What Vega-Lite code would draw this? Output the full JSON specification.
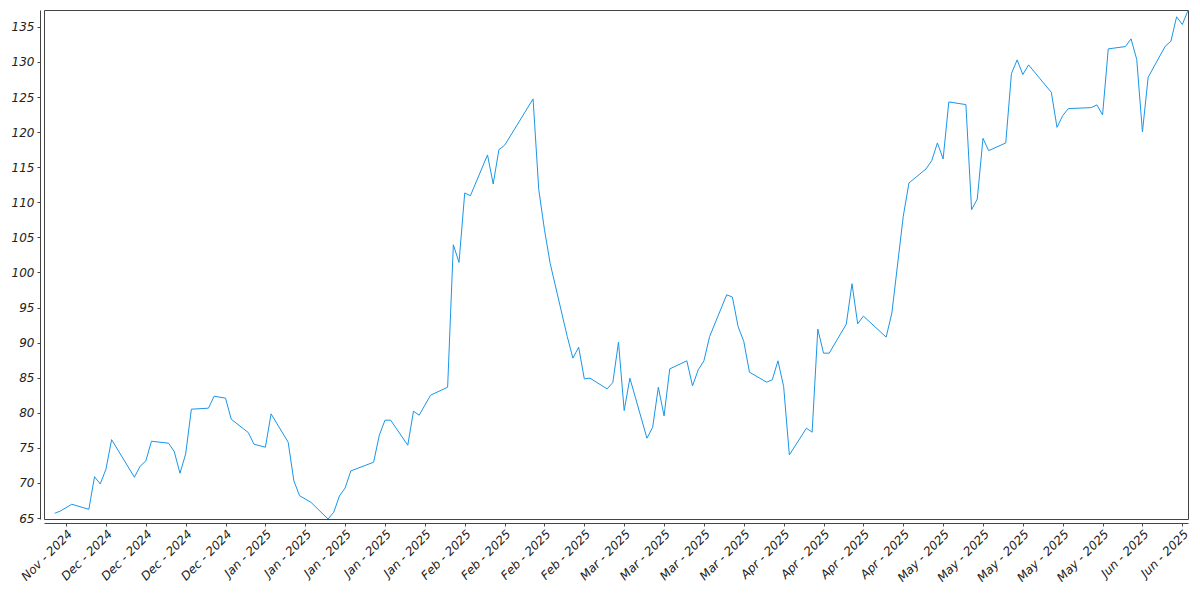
{
  "$schema": "https://vega.github.io/schema/vega-lite/v6.json",
  "width": 1144,
  "height": 509,
  "autosize": {"type": "none"},
  "padding": {"left": 44, "top": 10, "right": 12, "bottom": 81},
  "background": "white",
  "config": {
    "view": {"stroke": "#444444", "strokeWidth": 1},
    "axis": {
      "labelFont": "DejaVu Sans",
      "labelFontStyle": "italic",
      "labelFontSize": 12,
      "labelColor": "#222222",
      "tickColor": "#444444",
      "domainColor": "#444444",
      "tickSize": 3,
      "grid": false,
      "title": null,
      "labelOverlap": false,
      "labelBound": false,
      "labelFlush": false
    }
  },
  "data": {
    "values": [
      {"date": "2024-11-26", "value": 65.68},
      {"date": "2024-11-27", "value": 66.01},
      {"date": "2024-11-29", "value": 66.97},
      {"date": "2024-12-02", "value": 66.25},
      {"date": "2024-12-03", "value": 70.90},
      {"date": "2024-12-04", "value": 69.86},
      {"date": "2024-12-05", "value": 71.96},
      {"date": "2024-12-06", "value": 76.18},
      {"date": "2024-12-10", "value": 70.82},
      {"date": "2024-12-11", "value": 72.39},
      {"date": "2024-12-12", "value": 73.14},
      {"date": "2024-12-13", "value": 75.95},
      {"date": "2024-12-16", "value": 75.67},
      {"date": "2024-12-17", "value": 74.47},
      {"date": "2024-12-18", "value": 71.39},
      {"date": "2024-12-19", "value": 74.14},
      {"date": "2024-12-20", "value": 80.52},
      {"date": "2024-12-23", "value": 80.66},
      {"date": "2024-12-24", "value": 82.37},
      {"date": "2024-12-26", "value": 82.09},
      {"date": "2024-12-27", "value": 79.09},
      {"date": "2024-12-30", "value": 77.18},
      {"date": "2024-12-31", "value": 75.52},
      {"date": "2025-01-02", "value": 75.10},
      {"date": "2025-01-03", "value": 79.85},
      {"date": "2025-01-06", "value": 75.81},
      {"date": "2025-01-07", "value": 70.30},
      {"date": "2025-01-08", "value": 68.19},
      {"date": "2025-01-10", "value": 67.25},
      {"date": "2025-01-13", "value": 64.87},
      {"date": "2025-01-14", "value": 65.83},
      {"date": "2025-01-15", "value": 68.15},
      {"date": "2025-01-16", "value": 69.29},
      {"date": "2025-01-17", "value": 71.72},
      {"date": "2025-01-21", "value": 72.96},
      {"date": "2025-01-22", "value": 76.81},
      {"date": "2025-01-23", "value": 78.95},
      {"date": "2025-01-24", "value": 78.95},
      {"date": "2025-01-27", "value": 75.38},
      {"date": "2025-01-28", "value": 80.23},
      {"date": "2025-01-29", "value": 79.66},
      {"date": "2025-01-31", "value": 82.51},
      {"date": "2025-02-03", "value": 83.65},
      {"date": "2025-02-04", "value": 103.95},
      {"date": "2025-02-05", "value": 101.43},
      {"date": "2025-02-06", "value": 111.33},
      {"date": "2025-02-07", "value": 110.94},
      {"date": "2025-02-10", "value": 116.75},
      {"date": "2025-02-11", "value": 112.61},
      {"date": "2025-02-12", "value": 117.50},
      {"date": "2025-02-13", "value": 118.11},
      {"date": "2025-02-18", "value": 124.73},
      {"date": "2025-02-19", "value": 111.80},
      {"date": "2025-02-20", "value": 106.10},
      {"date": "2025-02-21", "value": 101.30},
      {"date": "2025-02-24", "value": 90.87},
      {"date": "2025-02-25", "value": 87.79},
      {"date": "2025-02-26", "value": 89.36},
      {"date": "2025-02-27", "value": 84.84},
      {"date": "2025-02-28", "value": 84.94},
      {"date": "2025-03-03", "value": 83.41},
      {"date": "2025-03-04", "value": 84.31},
      {"date": "2025-03-05", "value": 90.07},
      {"date": "2025-03-06", "value": 80.32},
      {"date": "2025-03-07", "value": 84.94},
      {"date": "2025-03-10", "value": 76.38},
      {"date": "2025-03-11", "value": 77.95},
      {"date": "2025-03-12", "value": 83.65},
      {"date": "2025-03-13", "value": 79.56},
      {"date": "2025-03-14", "value": 86.26},
      {"date": "2025-03-17", "value": 87.41},
      {"date": "2025-03-18", "value": 83.84},
      {"date": "2025-03-19", "value": 86.12},
      {"date": "2025-03-20", "value": 87.41},
      {"date": "2025-03-21", "value": 90.87},
      {"date": "2025-03-24", "value": 96.82},
      {"date": "2025-03-25", "value": 96.49},
      {"date": "2025-03-26", "value": 92.30},
      {"date": "2025-03-27", "value": 90.16},
      {"date": "2025-03-28", "value": 85.79},
      {"date": "2025-03-31", "value": 84.37},
      {"date": "2025-04-01", "value": 84.70},
      {"date": "2025-04-02", "value": 87.41},
      {"date": "2025-04-03", "value": 83.74},
      {"date": "2025-04-04", "value": 74.00},
      {"date": "2025-04-07", "value": 77.81},
      {"date": "2025-04-08", "value": 77.24},
      {"date": "2025-04-09", "value": 91.93},
      {"date": "2025-04-10", "value": 88.50},
      {"date": "2025-04-11", "value": 88.50},
      {"date": "2025-04-14", "value": 92.64},
      {"date": "2025-04-15", "value": 98.39},
      {"date": "2025-04-16", "value": 92.68},
      {"date": "2025-04-17", "value": 93.78},
      {"date": "2025-04-21", "value": 90.79},
      {"date": "2025-04-22", "value": 94.21},
      {"date": "2025-04-24", "value": 107.99},
      {"date": "2025-04-25", "value": 112.75},
      {"date": "2025-04-28", "value": 114.75},
      {"date": "2025-04-29", "value": 115.93},
      {"date": "2025-04-30", "value": 118.46},
      {"date": "2025-05-01", "value": 116.17},
      {"date": "2025-05-02", "value": 124.30},
      {"date": "2025-05-05", "value": 123.92},
      {"date": "2025-05-06", "value": 108.94},
      {"date": "2025-05-07", "value": 110.47},
      {"date": "2025-05-08", "value": 119.11},
      {"date": "2025-05-09", "value": 117.36},
      {"date": "2025-05-12", "value": 118.46},
      {"date": "2025-05-13", "value": 128.34},
      {"date": "2025-05-14", "value": 130.29},
      {"date": "2025-05-15", "value": 128.20},
      {"date": "2025-05-16", "value": 129.58},
      {"date": "2025-05-20", "value": 125.67},
      {"date": "2025-05-21", "value": 120.68},
      {"date": "2025-05-22", "value": 122.35},
      {"date": "2025-05-23", "value": 123.35},
      {"date": "2025-05-27", "value": 123.49},
      {"date": "2025-05-28", "value": 123.88},
      {"date": "2025-05-29", "value": 122.45},
      {"date": "2025-05-30", "value": 131.86},
      {"date": "2025-06-02", "value": 132.19},
      {"date": "2025-06-03", "value": 133.29},
      {"date": "2025-06-04", "value": 130.34},
      {"date": "2025-06-05", "value": 120.03},
      {"date": "2025-06-06", "value": 127.81},
      {"date": "2025-06-09", "value": 132.24},
      {"date": "2025-06-10", "value": 132.95},
      {"date": "2025-06-11", "value": 136.43},
      {"date": "2025-06-12", "value": 135.33},
      {"date": "2025-06-13", "value": 137.33}
    ]
  },
  "mark": {"type": "line", "color": "#1a96e8", "strokeWidth": 1, "interpolate": "linear"},
  "encoding": {
    "x": {
      "field": "date",
      "type": "temporal",
      "scale": {
        "type": "utc",
        "domain": [
          {"year": 2024, "month": 11, "date": 24, "hours": 3, "utc": true},
          {"year": 2025, "month": 6, "date": 13, "utc": true}
        ]
      },
      "axis": {
        "offset": 4,
        "labelAngle": -45,
        "labelAlign": "right",
        "labelBaseline": "top",
        "labelPadding": 2,
        "labelFontStyle": "italic",
        "labelOverlap": false,
        "labelExpr": "utcFormat(datum.value, '%b - %Y')",
        "values": [
          {"year": 2024, "month": 11, "date": 28, "utc": true},
          {"year": 2024, "month": 12, "date": 5, "utc": true},
          {"year": 2024, "month": 12, "date": 12, "utc": true},
          {"year": 2024, "month": 12, "date": 19, "utc": true},
          {"year": 2024, "month": 12, "date": 26, "utc": true},
          {"year": 2025, "month": 1, "date": 2, "utc": true},
          {"year": 2025, "month": 1, "date": 9, "utc": true},
          {"year": 2025, "month": 1, "date": 16, "utc": true},
          {"year": 2025, "month": 1, "date": 23, "utc": true},
          {"year": 2025, "month": 1, "date": 30, "utc": true},
          {"year": 2025, "month": 2, "date": 6, "utc": true},
          {"year": 2025, "month": 2, "date": 13, "utc": true},
          {"year": 2025, "month": 2, "date": 20, "utc": true},
          {"year": 2025, "month": 2, "date": 27, "utc": true},
          {"year": 2025, "month": 3, "date": 6, "utc": true},
          {"year": 2025, "month": 3, "date": 13, "utc": true},
          {"year": 2025, "month": 3, "date": 20, "utc": true},
          {"year": 2025, "month": 3, "date": 27, "utc": true},
          {"year": 2025, "month": 4, "date": 3, "utc": true},
          {"year": 2025, "month": 4, "date": 10, "utc": true},
          {"year": 2025, "month": 4, "date": 17, "utc": true},
          {"year": 2025, "month": 4, "date": 24, "utc": true},
          {"year": 2025, "month": 5, "date": 1, "utc": true},
          {"year": 2025, "month": 5, "date": 8, "utc": true},
          {"year": 2025, "month": 5, "date": 15, "utc": true},
          {"year": 2025, "month": 5, "date": 22, "utc": true},
          {"year": 2025, "month": 5, "date": 29, "utc": true},
          {"year": 2025, "month": 6, "date": 5, "utc": true},
          {"year": 2025, "month": 6, "date": 12, "utc": true}
        ]
      }
    },
    "y": {
      "field": "value",
      "type": "quantitative",
      "scale": {"domain": [64.87, 137.4], "nice": false, "zero": false},
      "axis": {
        "offset": 4,
        "labelPadding": 3,
        "labelFontStyle": "italic",
        "values": [65, 70, 75, 80, 85, 90, 95, 100, 105, 110, 115, 120, 125, 130, 135]
      }
    }
  }
}
